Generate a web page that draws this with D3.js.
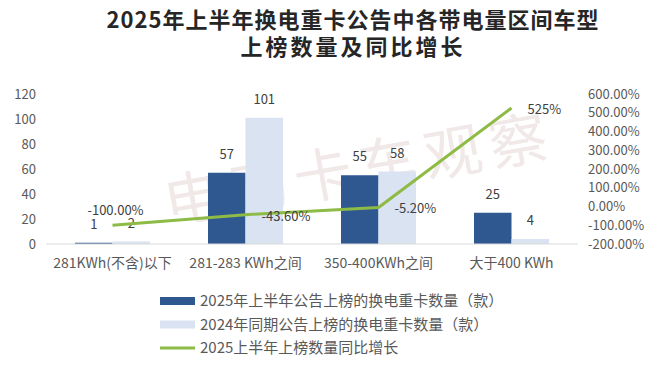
<!DOCTYPE html>
<html>
<head>
<meta charset="utf-8">
<script src="https://cdn.jsdelivr.net/npm/d3@7"></script>
<style>
  html, body { margin: 0; padding: 0; background: #fff; }
  svg { display: block; }
  text { font-family: "Noto Sans CJK SC", "Noto Sans", sans-serif; }
</style>
</head>
<body>
<svg id="chart" width="660" height="373"></svg>
<script>
const titleLines = ["2025年上半年换电重卡公告中各带电量区间车型", "上榜数量及同比增长"];
const categories = ["281KWh(不含)以下", "281-283 KWh之间", "350-400KWh之间", "大于400 KWh"];
const series2025 = [1, 57, 55, 25];
const series2024 = [2, 101, 58, 4];
const growth = [-100, -43.6, -5.2, 525];
const growthLabels = ["-100.00%", "-43.60%", "-5.20%", "525%"];
const leftTicks = [0, 20, 40, 60, 80, 100, 120];
const rightTicks = [-200, -100, 0, 100, 200, 300, 400, 500, 600];
const seriesNames = ["2025年上半年公告上榜的换电重卡数量（款）", "2024年同期公告上榜的换电重卡数量（款）", "2025上半年上榜数量同比增长"];
const watermark = "电动卡车观察";

const colDark = "#2f5891", colLight = "#dae3f1", colGreen = "#8dbb45";
const svg = d3.select("#chart");

// title
svg.append("g").selectAll("text").data(titleLines).join("text")
  .attr("x", 353).attr("y", (d, i) => 28 + i * 27)
  .attr("text-anchor", "middle").attr("font-size", 22).attr("font-weight", 700)
  .attr("letter-spacing", (d, i) => i === 0 ? 1 : 3)
  .attr("fill", "#262626").text(d => d);

const x = d3.scaleBand().domain(categories).range([46, 578]).padding(0);
const xs = d3.scaleBand().domain(["a", "b"]).range([0, x.bandwidth()]).paddingInner(0).paddingOuter(0.773);
const yL = d3.scaleLinear().domain([0, 120]).range([244, 94]);
const yR = d3.scaleLinear().domain([-200, 600]).range([244, 94]);

// watermark
svg.append("text").attr("transform", "translate(168,224) rotate(-10)")
  .attr("font-size", 58).attr("fill", "#f1e8e8").attr("letter-spacing", 8).text(watermark);

// bars
const gB = svg.append("g");
categories.forEach((c, i) => {
  [["a", series2025[i], colDark], ["b", series2024[i], colLight]].forEach(([k, v, col]) => {
    const bx = x(c) + xs(k);
    gB.append("rect").attr("x", bx).attr("width", xs.bandwidth())
      .attr("y", yL(v)).attr("height", yL(0) - yL(v)).attr("fill", col);
    gB.append("text").attr("x", bx + xs.bandwidth() / 2).attr("y", yL(v) - 14)
      .attr("text-anchor", "middle").attr("font-size", 13).attr("fill", "#404040").text(v);
  });
});

// baseline
svg.append("line").attr("x1", 46).attr("x2", 578).attr("y1", yL(0)).attr("y2", yL(0))
  .attr("stroke", "#d9d9d9").attr("stroke-width", 1);

// left axis
const axL = d3.axisLeft(yL).tickValues(leftTicks).tickSize(0).tickPadding(0);
const gL = svg.append("g").attr("transform", "translate(36,0)").call(axL);
gL.select(".domain").remove();
gL.selectAll("text").attr("font-size", 13).attr("fill", "#595959").attr("font-family", "'Noto Sans', sans-serif");

// right axis
const axR = d3.axisRight(yR).tickValues(rightTicks).tickSize(0).tickPadding(0).tickFormat(d => d.toFixed(2) + "%");
const gR = svg.append("g").attr("transform", "translate(588,0)").call(axR);
gR.select(".domain").remove();
gR.selectAll("text").attr("font-size", 13).attr("fill", "#595959").attr("font-family", "'Noto Sans', sans-serif");

// x axis
const axX = d3.axisBottom(x).tickSize(0).tickPadding(0);
const gX = svg.append("g").attr("transform", "translate(0,258)").call(axX);
gX.select(".domain").remove();
gX.selectAll("text").attr("font-size", 14).attr("fill", "#595959").attr("dy", "0.71em");

// line
const cx = c => x(c) + x.bandwidth() / 2;
const line = d3.line().x((d, i) => cx(categories[i])).y(d => yR(d));
svg.append("path").datum(growth).attr("d", line).attr("fill", "none")
  .attr("stroke", colGreen).attr("stroke-width", 3).attr("stroke-linejoin", "round");
svg.append("g").selectAll("text").data(growth).join("text")
  .attr("x", (d, i) => cx(categories[i]) + (i === 0 ? 3 : 16))
  .attr("y", (d, i) => yR(d) + (i === 0 ? -10.5 : 6))
  .attr("text-anchor", (d, i) => i === 0 ? "middle" : "start")
  .attr("font-size", 13).attr("fill", "#404040").text((d, i) => growthLabels[i]);

// legend
const lg = svg.append("g");
seriesNames.forEach((n, i) => {
  const yy = 301 + i * 23.5;
  if (i < 2) {
    lg.append("rect").attr("x", 160).attr("y", yy - 4).attr("width", 35).attr("height", 8)
      .attr("fill", i === 0 ? colDark : colLight);
  } else {
    lg.append("line").attr("x1", 160).attr("x2", 195).attr("y1", yy).attr("y2", yy)
      .attr("stroke", colGreen).attr("stroke-width", 3);
  }
  lg.append("text").attr("x", 200).attr("y", yy + 5).attr("font-size", 15)
    .attr("fill", "#595959").text(n);
});
</script>
</body>
</html>
